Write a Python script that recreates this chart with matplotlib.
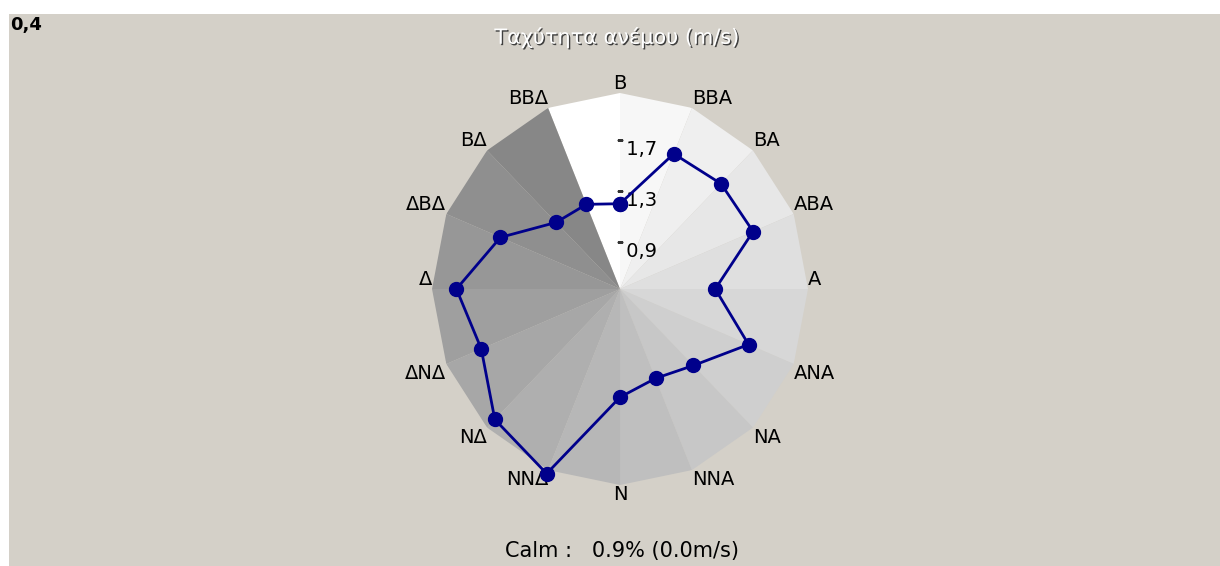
import numpy as np
import matplotlib
matplotlib.use("Agg")
from matplotlib import pyplot as plt
from matplotlib.patches import Rectangle
import matplotlib.patheffects as pe

# wind directions (Greek compass points), clockwise from north
directions = ["Β", "ΒΒΑ", "ΒΑ", "ΑΒΑ", "Α", "ΑΝΑ", "ΝΑ", "ΝΝΑ",
              "Ν", "ΝΝΔ", "ΝΔ", "ΔΝΔ", "Δ", "ΔΒΔ", "ΒΔ", "ΒΒΔ"]
# mean wind speed per direction (m/s)
speeds = [1.20, 1.68, 1.70, 1.71, 1.31, 1.67, 1.38, 1.29,
          1.38, 2.10, 1.98, 1.76, 1.87, 1.59, 1.27, 1.25]
r_ticks = [0.9, 1.3, 1.7]
r_tick_labels = ["0,9", "1,3", "1,7"]
r_min, r_max = 0.53, 2.07

title = "Ταχύτητα ανέμου (m/s)"
calm_text = "Calm :   0.9% (0.0m/s)"
corner_text = "0,4"

bg = "#d4d0c8"
line_color = "#00008b"

plt.rcParams["font.family"] = ["DejaVu Sans"]

fig = plt.figure(figsize=(12.2, 5.66), dpi=100)
fig.patch.set_facecolor("white")
fig.patches.append(Rectangle((9 / 1220, 0), 1 - 9 / 1220, 1 - 14 / 566,
                             transform=fig.transFigure, facecolor=bg,
                             edgecolor="none", zorder=-10))

ax = fig.add_axes([0.3541, 0.1431, 0.3082, 0.6926], projection="polar")
ax.set_zorder(1)
ax.set_aspect("auto")
ax.set_theta_zero_location("N")
ax.set_theta_direction(-1)
ax.set_ylim(r_min, r_max)
ax.patch.set_visible(False)
ax.spines["polar"].set_visible(False)
ax.grid(False)
ax.set_xticks([])
ax.set_yticks([])

n = len(directions)
theta = np.deg2rad(np.arange(n) * 360 / n)

# shaded sectors, white just left of north, getting darker clockwise
step = 2 * np.pi / n
for i in range(n):
    g = (255 - 8 * i) / 255
    a = theta[0] + (i - 1) * step
    ax.fill([a, a, a + step], [r_min, r_max, r_max], color=(g, g, g),
            linewidth=0, zorder=1)

# radial tick labels
for val, lab in zip(r_ticks, r_tick_labels):
    ax.plot([0], [val], marker="_", markersize=5, markeredgewidth=1,
            color="#333333", zorder=3)
    ax.text(0, val, " " + lab, ha="left", va="top", fontsize=14, zorder=3)

# direction labels
for t, name in zip(theta, directions):
    s, c = np.sin(t), np.cos(t)
    ha = "center" if abs(s) < 0.01 else ("left" if s > 0 else "right")
    va = "bottom" if c > -0.01 else "top"
    ax.text(t, r_max, name, ha=ha, va=va, fontsize=14, zorder=3)

# wind speed line
ax.plot(np.append(theta, theta[0]), speeds + speeds[:1], color=line_color,
        linewidth=2, marker="o", markersize=10, clip_on=False, zorder=4)

fig.text(617 / 1220, 1 - 37 / 566, title, ha="center", va="center",
         fontsize=15, color="white",
         path_effects=[pe.withSimplePatchShadow(offset=(1, -1),
                                                shadow_rgbFace="#404040",
                                                alpha=1.0)])
fig.text(10 / 1220, 1 - 25 / 566, corner_text, ha="left", va="center",
         fontsize=13, fontweight="bold")
fig.text(622 / 1220, 1 - 551 / 566, calm_text, ha="center", va="center",
         fontsize=15)

fig.savefig("out.png", dpi=100, facecolor=fig.get_facecolor())
